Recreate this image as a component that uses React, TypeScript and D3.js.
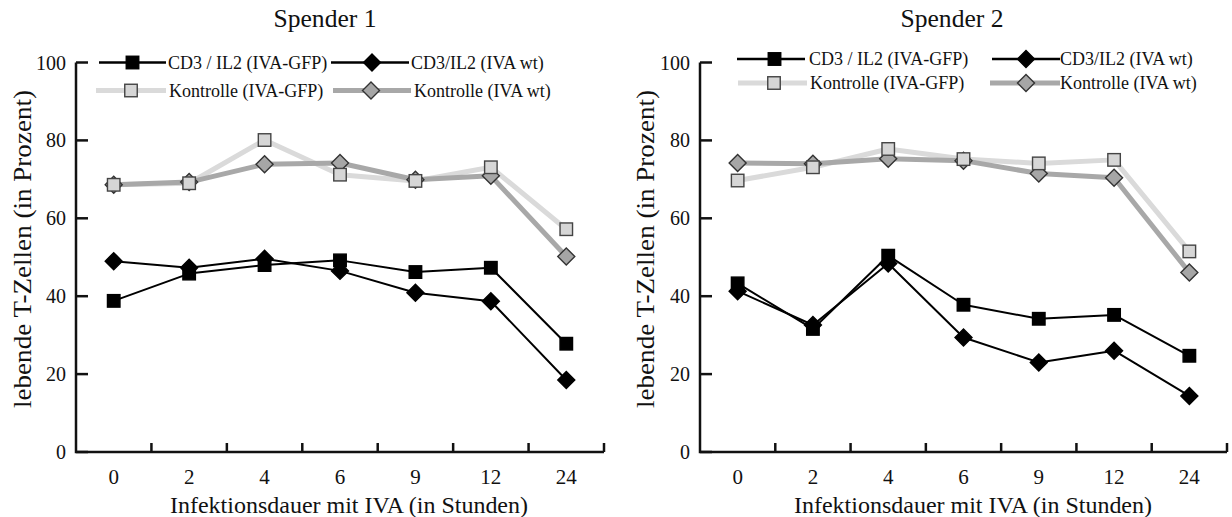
import React from "react";
import * as d3 from "d3";

const categories = ["0", "2", "4", "6", "9", "12", "24"];

const titles = ["Spender 1", "Spender 2"];
const yTicks = [0, 20, 40, 60, 80, 100];
const yLabel = "lebende T-Zellen (in Prozent)";
const xLabel = "Infektionsdauer mit IVA (in Stunden)";

const seriesNames = [
  "CD3 / IL2 (IVA-GFP)",
  "CD3/IL2 (IVA wt)",
  "Kontrolle (IVA-GFP)",
  "Kontrolle (IVA wt)",
];

// Spender 1
const s1_cd3_gfp = [38.8, 45.8, 48.0, 49.2, 46.2, 47.3, 27.8];
const s1_cd3_wt = [49.0, 47.3, 49.6, 46.5, 40.9, 38.7, 18.5];
const s1_ktr_gfp = [68.6, 69.0, 80.1, 71.2, 69.6, 73.1, 57.2];
const s1_ktr_wt = [68.6, 69.3, 73.9, 74.2, 69.9, 70.9, 50.2];

// Spender 2
const s2_cd3_gfp = [43.3, 31.6, 50.4, 37.8, 34.2, 35.2, 24.7];
const s2_cd3_wt = [41.3, 32.6, 48.4, 29.4, 23.0, 26.0, 14.4];
const s2_ktr_gfp = [69.7, 73.1, 77.8, 75.2, 74.1, 75.0, 51.5];
const s2_ktr_wt = [74.2, 74.0, 75.3, 74.8, 71.5, 70.4, 46.1];

const FONT = "'Liberation Serif', 'Times New Roman', serif";

type Style = {
  line: string;
  width: number;
  shape: "square" | "diamond";
  fill: string;
  stroke: string;
};

const styles: Style[] = [
  { line: "#000", width: 2, shape: "square", fill: "#000", stroke: "#000" },
  { line: "#000", width: 2, shape: "diamond", fill: "#000", stroke: "#000" },
  { line: "#dadada", width: 5, shape: "square", fill: "#d6d6d6", stroke: "#444" },
  { line: "#a8a8a8", width: 5, shape: "diamond", fill: "#a6a6a6", stroke: "#333" },
];

function Marker({ x, y, st }: { x: number; y: number; st: Style }) {
  if (st.shape === "square") {
    const s = 12.5;
    return (
      <rect
        x={x - s / 2}
        y={y - s / 2}
        width={s}
        height={s}
        fill={st.fill}
        stroke={st.stroke}
        strokeWidth={1.4}
      />
    );
  }
  const r = 8.5;
  return (
    <path
      d={`M${x},${y - r}L${x + r},${y}L${x},${y + r}L${x - r},${y}Z`}
      fill={st.fill}
      stroke={st.stroke}
      strokeWidth={1.4}
    />
  );
}

type PanelProps = {
  title: string;
  titleX: number;
  data: number[][];
  x0: number;
  x1: number;
  yLabelX: number;
  xLabelX: number;
  legend: {
    rows: number[];
    col1: { l0: number; l1: number; m: number; t: number };
    col2: { l0: number; l1: number; m: number; t: number };
    col1b: { l0: number; l1: number; m: number; t: number };
    col2b: { l0: number; l1: number; m: number; t: number };
  };
};

function Panel({ title, titleX, data, x0, x1, yLabelX, xLabelX, legend }: PanelProps) {
  const x = d3.scaleBand<string>().domain(categories).range([x0, x1]).padding(0);
  const y = d3.scaleLinear().domain([0, 100]).range([452, 62.5]);
  const bw = x.bandwidth();
  const line = d3
    .line<number>()
    .x((_, i) => (x(categories[i]) as number) + bw / 2)
    .y((v) => y(v));

  const drawOrder = [2, 3, 0, 1];
  const markerOrder = [3, 2, 1, 0];

  const legendItems = [
    { idx: 0, row: legend.rows[0], pos: legend.col1 },
    { idx: 1, row: legend.rows[0], pos: legend.col2 },
    { idx: 2, row: legend.rows[1], pos: legend.col1b },
    { idx: 3, row: legend.rows[1], pos: legend.col2b },
  ];

  return (
    <g>
      <text
        x={titleX}
        y={27}
        textAnchor="middle"
        fontFamily={FONT}
        fontSize={26}
        textLength={103}
        lengthAdjust="spacingAndGlyphs"
        fill="#111"
      >
        {title}
      </text>

      {/* axes */}
      <path
        d={`M${x0},${y(100)}L${x0},${y(0)}L${x1},${y(0)}`}
        fill="none"
        stroke="#111"
        strokeWidth={2.5}
      />
      {yTicks.map((t) => (
        <g key={"yt" + t}>
          <line x1={x0} x2={x0 + 12} y1={y(t)} y2={y(t)} stroke="#111" strokeWidth={2.5} />
          <text
            x={x0 - 10}
            y={y(t) + 7}
            textAnchor="end"
            fontFamily={FONT}
            fontSize={20}
            fill="#111"
          >
            {t}
          </text>
        </g>
      ))}
      {categories.map((c, i) => (
        <g key={"xt" + c}>
          <line
            x1={(x(c) as number) + bw}
            x2={(x(c) as number) + bw}
            y1={y(0)}
            y2={y(0) - 9}
            stroke="#111"
            strokeWidth={2.5}
          />
          <text
            x={(x(c) as number) + bw / 2}
            y={483.5}
            textAnchor="middle"
            fontFamily={FONT}
            fontSize={21}
            fill="#111"
          >
            {c}
          </text>
        </g>
      ))}
      <text
        transform={`translate(${yLabelX},249) rotate(-90)`}
        textAnchor="middle"
        fontFamily={FONT}
        fontSize={26}
        textLength={318}
        lengthAdjust="spacingAndGlyphs"
        fill="#111"
      >
        {yLabel}
      </text>
      <text
        x={xLabelX}
        y={513}
        textAnchor="middle"
        fontFamily={FONT}
        fontSize={24}
        textLength={358}
        lengthAdjust="spacingAndGlyphs"
        fill="#111"
      >
        {xLabel}
      </text>

      {/* lines */}
      {drawOrder.map((k) => (
        <path
          key={"l" + k}
          d={line(data[k]) as string}
          fill="none"
          stroke={styles[k].line}
          strokeWidth={styles[k].width}
          strokeLinejoin="round"
        />
      ))}
      {markerOrder.map((k) => (
        <g key={"m" + k}>
          {data[k].map((v, i) => (
            <Marker
              key={i}
              x={(x(categories[i]) as number) + bw / 2}
              y={y(v)}
              st={styles[k]}
            />
          ))}
        </g>
      ))}

      {/* legend */}
      {legendItems.map(({ idx, row, pos }) => (
        <g key={"lg" + idx}>
          <line
            x1={pos.l0}
            x2={pos.l1}
            y1={row}
            y2={row}
            stroke={styles[idx].line}
            strokeWidth={idx < 2 ? 2.5 : 5}
          />
          <Marker x={pos.m} y={row} st={styles[idx]} />
          <text
            x={pos.t}
            y={row + 6}
            fontFamily={FONT}
            fontSize={18}
            fill="#111"
          >
            {seriesNames[idx]}
          </text>
        </g>
      ))}
    </g>
  );
}

export default function App() {
  return (
    <svg
      width={1232}
      height={517}
      style={{ position: "absolute", left: 0, top: 0, background: "#fff" }}
    >
      <rect width={1232} height={517} fill="#fff" />
      <Panel
        title={titles[0]}
        titleX={325}
        data={[s1_cd3_gfp, s1_cd3_wt, s1_ktr_gfp, s1_ktr_wt]}
        x0={76}
        x1={604}
        yLabelX={31}
        xLabelX={349}
        legend={{
          rows: [62.5, 90.5],
          col1: { l0: 99, l1: 166, m: 132.5, t: 168 },
          col2: { l0: 331, l1: 409, m: 372, t: 411 },
          col1b: { l0: 96, l1: 166, m: 131, t: 169 },
          col2b: { l0: 333, l1: 411, m: 371, t: 414 },
        }}
      />
      <Panel
        title={titles[1]}
        titleX={952}
        data={[s2_cd3_gfp, s2_cd3_wt, s2_ktr_gfp, s2_ktr_wt]}
        x0={700}
        x1={1227}
        yLabelX={654}
        xLabelX={973}
        legend={{
          rows: [59, 83],
          col1: { l0: 737, l1: 805, m: 774.5, t: 809 },
          col2: { l0: 992, l1: 1060, m: 1026, t: 1060 },
          col1b: { l0: 738, l1: 807, m: 774, t: 810 },
          col2b: { l0: 990, l1: 1060, m: 1026, t: 1060 },
        }}
      />
    </svg>
  );
}
